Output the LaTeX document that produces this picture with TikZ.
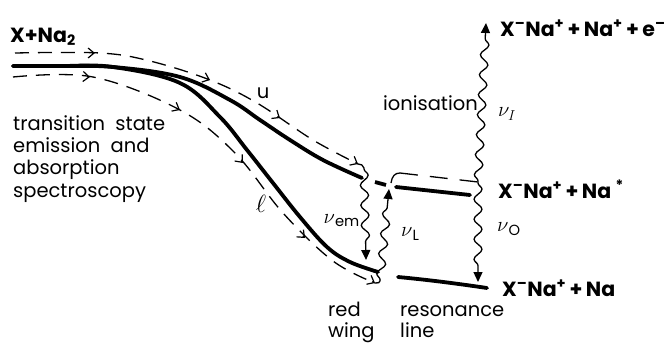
\documentclass[tikz,border=0pt]{standalone}
\usepackage{fontspec}
\setmainfont{Poppins}
\usetikzlibrary{decorations.pathmorphing,arrows.meta}
\begin{document}
\begin{tikzpicture}[x=1pt,y=-1pt,
  thickline/.style={line width=3.8pt, line cap=round},
  thinline/.style={line width=1.3pt},
  dashline/.style={line width=1.3pt, dash pattern=on 14pt off 9pt},
  wavy/.style={line width=1.3pt, decorate, decoration={snake, amplitude=4pt, segment length=20pt, post length=10pt, pre length=1pt}, -{Triangle[length=10pt,width=9pt]}},
  chev/.style={line width=1.2pt, -{Straight Barb[length=6pt,width=10pt]}},
  lbl/.style={inner sep=0pt, font=\fontsize{19.5}{22.3}\selectfont},
  nulbl/.style={inner sep=0pt, font=\fontsize{21}{22}\selectfont},
  biglbl/.style={inner sep=0pt, font=\fontsize{23}{22}\selectfont},
  chem/.style={inner sep=0pt, font=\fontsize{20.5}{22}\selectfont\bfseries},
]
\useasboundingbox (0,0) rectangle (664,343);

% thick potential curves
\draw[thickline] plot[smooth, tension=0.6] coordinates {(13,66) (60,66) (113,67) (180,77) (230,100) (260,120) (290,140) (323,160) (362,178)};
\draw[thickline] plot[smooth, tension=0.6] coordinates {(13,66) (60,66) (113,67) (180,83) (220,117) (247,150) (273,183) (300,217) (327,247) (350,262) (378,272)};
\draw[thickline, line cap=butt] (375,182) -- (386,185);
\draw[thickline] (396,187) -- (470,195);
\draw[thickline] (398,277) .. controls (430,280) and (460,284) .. (487,288);

% dashed trajectories
\draw[dashline] plot[smooth, tension=0.6] coordinates {(15,53) (100,53) (150,61) (210,80) (257,103) (313,140) (358,164)};
\draw[dashline] plot[smooth, tension=0.6] coordinates {(13,77) (93,77) (180,110) (235,153) (283,213) (333,261) (375,283)};

% direction chevrons on the trajectories
\draw[chev] (92,53) -- (95,53);
\draw[chev] (207.2,78.9) -- (210,80);
\draw[chev] (277.5,116.4) -- (280,118);
\draw[chev] (355.4,162.6) -- (358,164);
\draw[chev] (87,76.8) -- (90,77);
\draw[chev] (177.4,108.6) -- (180,110);
\draw[chev] (241,160.7) -- (243,163);
\draw[chev] (302.8,235.9) -- (305,238);
\draw[chev] (372.3,281.6) -- (375,283);

% coordinates for transitions
\coordinate (E0) at (358,164);
\coordinate (E1) at (364,168);
\coordinate (E2) at (366,260);
\coordinate (L0) at (375,283);
\coordinate (L1) at (380,281);
\coordinate (L2) at (389,189);
\coordinate (J) at (478,182);
\coordinate (Itop) at (486,23);
\coordinate (Obot) at (478,282);
\coordinate (D0) at (391,183);
\coordinate (D1) at (400,173);

\draw[thinline] (E0) .. controls (361,164) and (363,165) .. (E1);
\draw[wavy] (E1) -- (E2);
\draw[thinline] (L0) .. controls (378,283) and (380,283) .. (L1);
\draw[wavy] (L1) -- (L2);
\draw[thinline] (D0) .. controls (392,176) and (395,173) .. (D1);
\draw[dashline, dash pattern=on 18pt off 12pt] (D1) -- (J);
\draw[wavy] (J) -- (Itop);
\draw[wavy] (J) -- (Obot);

% labels
\node[chem, anchor=base west] (xna2) at (10,42) {X+Na\textsubscript{2}};
\node[lbl, anchor=base west, align=left] (tse) at (13,197) {transition\ \ state\\emission\ \ and\\absorption\\spectroscopy};
\node[lbl] (ulab) at (263,93) {u};
\node[biglbl] (ellab) at (261,204) {$\ell$};
\node[lbl, anchor=base east] (ion) at (478,110) {ionisation};
\node[nulbl, anchor=west] (nuI) at (498,114) {$\nu_I$};
\node[chem, anchor=base west] (ion2) at (500,36) {X\textsuperscript{\textendash}Na\textsuperscript{+}\,+\,Na\textsuperscript{+}\,+\,e\textsuperscript{\textendash}};
\node[chem, anchor=base west] (star) at (498,198) {X\textsuperscript{\textendash}Na\textsuperscript{+}\,+\,Na\ \textsuperscript{*}};
\node[nulbl, anchor=west] (nuO) at (497,229) {$\nu$\textsubscript{O}};
\node[chem, anchor=base west] (gnd) at (502,296) {X\textsuperscript{\textendash}Na\textsuperscript{+}\,+\,Na};
\node[lbl, anchor=base west, align=left] (rw) at (328,337) {red\\[-2pt]wing};
\node[lbl, anchor=base west, align=left] (rl) at (400,337) {resonance\\[-2pt]line};
\node[nulbl, anchor=east] (nuem) at (360,221) {$\nu$\textsubscript{em}};
\node[nulbl, anchor=west] (nuL) at (401,234) {$\nu$\textsubscript{L}};
\end{tikzpicture}
\end{document}
